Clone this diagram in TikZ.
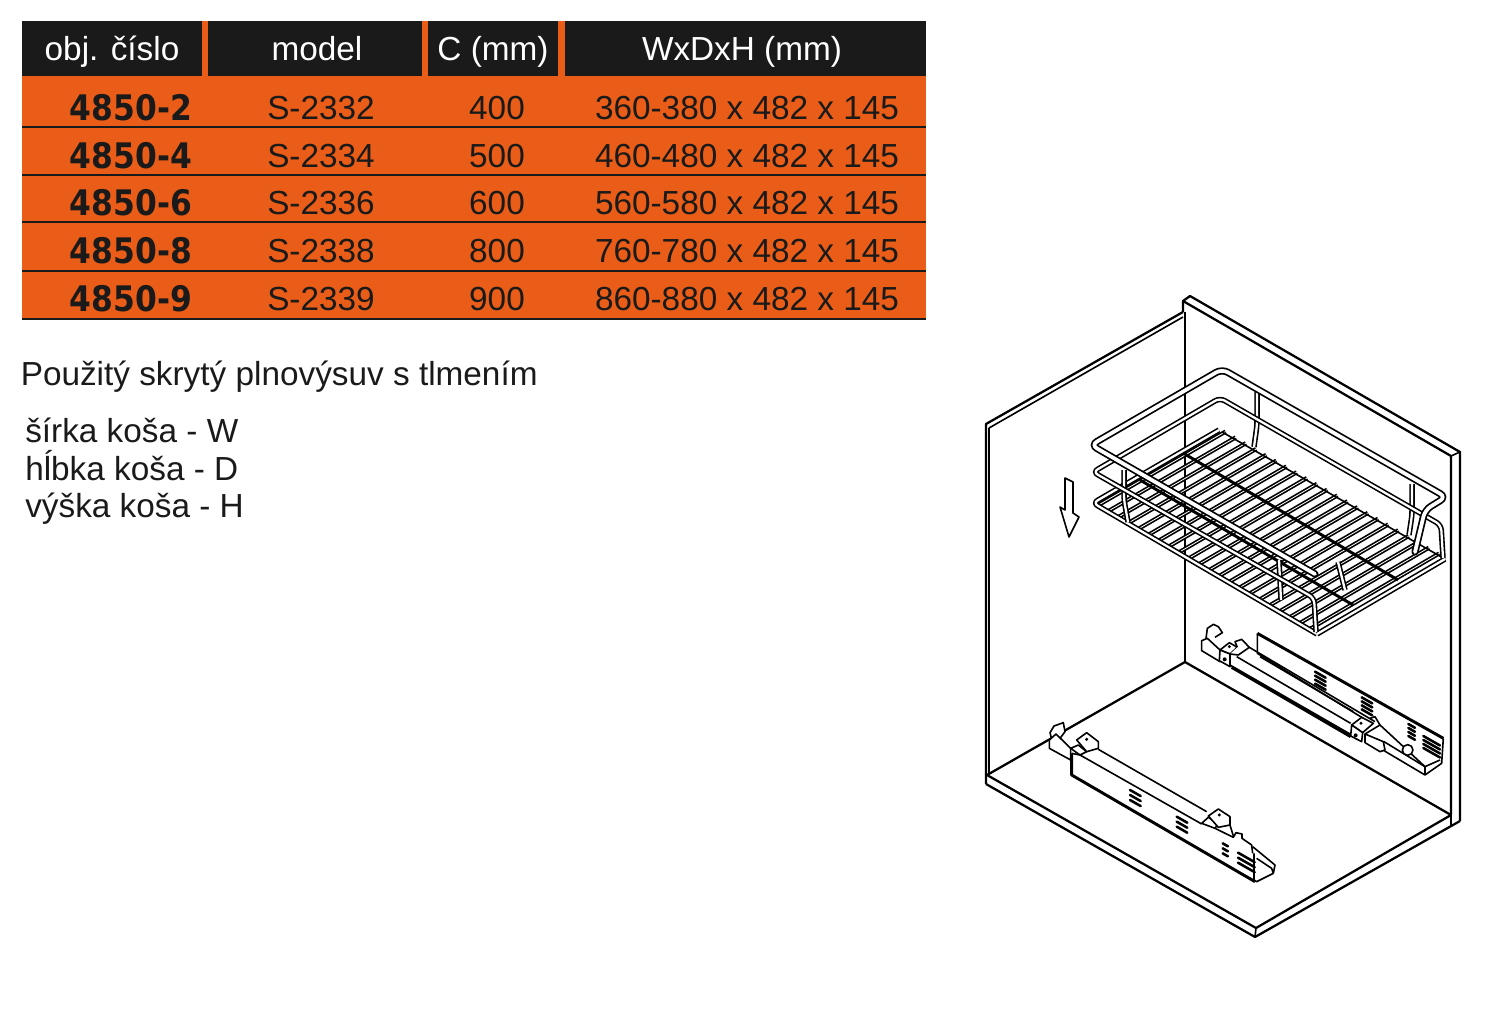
\documentclass[tikz,border=0pt]{standalone}
\usepackage{fontspec}
\setmainfont{Liberation Sans}
\newfontfamily\heavyfont{DejaVu Sans}[BoldFont={DejaVu Sans Bold}]
\usetikzlibrary{calc}
\definecolor{tblorange}{RGB}{233,93,24}
\definecolor{tblblack}{RGB}{26,26,26}
\tikzset{
  headcell/.style={fill=tblblack},
  headtext/.style={anchor=base,inner sep=0.75pt,text=white,font=\fontsize{25}{30}\selectfont},
  rowtext/.style={anchor=base,inner sep=0.75pt,text=tblblack,font=\fontsize{25}{30}\selectfont},
  numtext/.style={anchor=base,inner sep=0.75pt,text=tblblack,font=\heavyfont\bfseries\fontsize{24}{30}\selectfont},
  notetext/.style={anchor=base west,inner sep=0pt,text=tblblack,font=\fontsize{25}{30}\selectfont},
  cabinet/.style={line width=1.7pt,line join=round},
  thinline/.style={line width=1.2pt,line join=round},
  tube/.style={line width=1.3pt,double=white,double distance=2.8pt,rounded corners=5pt,line cap=round},
  thintube/.style={line width=1.2pt,double=white,double distance=1.7pt,rounded corners=4pt},
  slat/.style={line width=1.25pt,double=white,double distance=0.6pt},
  slide/.style={line width=1.2pt,line join=round},
  heavy/.style={line width=2.2pt,line join=round},
  hole/.style={line width=1.9pt,line cap=round}
}
\begin{document}
\begin{tikzpicture}[x=0.75pt,y=0.75pt,yscale=-1,xscale=1]
\useasboundingbox (0,0) rectangle (1505,1016);

%table
\fill [tblorange] (22,21) rectangle (926,319);
\fill [headcell] (22,21) rectangle (202,76);
\fill [headcell] (208,21) rectangle (422,76);
\fill [headcell] (428,21) rectangle (558,76);
\fill [headcell] (565,21) rectangle (926,76);
\node [headtext] (headnum) at (112,61) {obj. číslo};
\node [headtext] (headmodel) at (317,61) {model};
\node [headtext] (headc) at (493,61) {C (mm)};
\node [headtext] (headsize) at (742,61) {WxDxH (mm)};
\foreach \rowy/\linky/\num/\mdl/\cc/\sz [count=\i] in {
  120/127/4850-2/S-2332/400/360-380,
  167.5/175.5/4850-4/S-2334/500/460-480,
  215/222.5/4850-6/S-2336/600/560-580,
  262.5/271/4850-8/S-2338/800/760-780,
  310.5/319/4850-9/S-2339/900/860-880}{
  \draw [line width=1.5pt,tblblack] (22,\linky) -- (926,\linky);
  \node [numtext] (num\i) at (131,\rowy+1) {\scalebox{0.98}[1.1]{\num}};
  \node [rowtext] (model\i) at (321,\rowy) {\mdl};
  \node [rowtext] (cc\i) at (497,\rowy) {\cc};
  \node [rowtext] (size\i) at (747,\rowy) {\sz{} x 482 x 145};
}

%notes
\node [notetext] (used) at (20.5,385) {Použitý skrytý plnovýsuv s tlmením};
\node [notetext] (width) at (25,442) {šírka koša - W};
\node [notetext] (depth) at (25,480) {hĺbka koša - D};
\node [notetext] (height) at (25,517) {výška koša - H};

%cabinet
\draw [cabinet] (986,784) -- (986,424) -- (1183,312);
\draw [thinline] (989,428) -- (1183,317);
\draw [thinline] (989,428) -- (989,775);
\draw [cabinet,line width=1.3pt] (1185,312) -- (1185,662);
\draw [cabinet] (1183,312) -- (1183,301) -- (1190,296) -- (1460,452) -- (1460,821);
\draw [cabinet] (1183,301) -- (1451,456) -- (1451,815);
\draw [thinline] (1451,456) -- (1460,452);
\draw [cabinet] (1185,662) -- (1451,815);
\draw [cabinet] (1185,662) -- (987,775) -- (1256,928) -- (1451,815);
\draw [cabinet] (986,784) -- (1255,937) -- (1460,821);
\draw [thinline] (1256,928) -- (1255,937);
\draw [thinline] (1451,815) -- (1451,825);

%arrow
\draw [thinline] (1065,478) -- (1073,482) -- (1073,513) -- (1079,517) -- (1069,537) -- (1060,507) -- (1065,510) -- cycle;

%basket floor
\coordinate (gridleft) at (1093,503);
\coordinate (gridback) at (1219,430);
\coordinate (gridright) at (1445,559);
\coordinate (gridfront) at (1317,634);
\foreach \t in {0.02,0.065,...,0.98}{
  \draw [slat] ($(gridleft)!\t!(gridfront)$) -- ($(gridback)!\t!(gridright)+(2,-1)$);
}
\draw [thintube] (gridfront) -- (gridleft) -- (gridback);
\draw [thinline] (1222,432) -- (1445,559);
\draw [thintube] (gridfront) -- (gridright);
\draw [heavy] (1183,453) -- (1398,580);
\draw [heavy] (1140,480) -- (1353,605);

%basket posts
\draw [thintube] (1124,470) -- (1124,500) -- (1128,522);
\draw [thintube] (1257,392) -- (1257,425) -- (1254,447);
\draw [thintube] (1279,560) -- (1281,600);
\draw [thintube] (1412,484) -- (1412,515) -- (1409,535);
\draw [thintube] (1338,562) -- (1345,590);

%lower rail
\draw [thintube] (1316,632) -- (1314,598) -- (1093,472) -- (1220,398) -- (1441,525) -- (1443,558);

%upper rail
\draw [tube] (1315,574) -- (1091,445) -- (1222,369) -- (1446,497) -- (1425,510) -- (1415,552);

%right slide
\begin{scope}[shift={(1180,610)},scale=0.3333]
  \draw [slide,fill=white] (78,85) -- (82,55) -- (100,43) -- (115,50) -- (127,68) -- (105,82);
  \draw [slide,fill=white] (65,92) -- (65,122) -- (120,155) -- (120,120) -- (82,85) -- cycle;
  \draw [slide,fill=white] (120,120) -- (148,98) -- (172,112) -- (150,132) -- cycle;
  \draw [slide,fill=white] (120,120) -- (118,152) -- (150,170) -- (150,132) -- cycle;
  \draw [slide,fill=white] (172,112) -- (165,95) -- (185,88) -- (208,112) -- (175,135) -- (150,132);
  \draw [slide] (150,165) -- (510,372);
  \draw [heavy] (155,172) -- (512,380);
  \draw [slide] (170,140) -- (512,340);
  \draw [slide] (208,112) -- (585,335);
  \draw [heavy] (232,70) -- (790,385);
  \draw [slide] (232,70) -- (232,130) -- (545,322);
  \draw [slide] (240,140) -- (520,305);
  \draw [slide] (790,385) -- (785,460) -- (735,495) -- (612,422);
  \draw [slide] (600,345) -- (735,470) -- (780,450);
  \draw [slide] (612,395) -- (735,470);
  \draw [slide] (735,470) -- (735,495);
  \draw [slide,fill=white] (515,345) -- (545,322) -- (580,340) -- (548,368) -- cycle;
  \draw [slide,fill=white] (515,345) -- (512,378) -- (545,395) -- (548,368) -- cycle;
  \draw [slide] (570,325) -- (585,320) -- (600,345) -- (555,372);
  \draw [slide,fill=white] (555,372) -- (610,395) -- (615,420) -- (600,425) -- (555,398) -- cycle;
  \draw [slide,fill=white] (683,420) circle [radius=16];
  \fill (148,110) circle [radius=5];
  \fill (134,148) circle [radius=6];
  \fill (543,340) circle [radius=5];
  \fill (527,376) circle [radius=6];
  %hole rows
  \foreach \hx/\hy/\hw in {405/185/32,545/262/32,685/342/20,730/378/50}{
    \foreach \k in {0,1,2,3}{
      \draw [hole] (\hx,\hy+\k*12) -- +(\hw,\hw*0.57);
    }
  }
\end{scope}

%left slide
\begin{scope}[shift={(1030,710)},scale=0.3333]
  \draw [slide,fill=white] (60,68) -- (72,48) -- (100,38) -- (105,65) -- (90,85) -- (65,88) -- cycle;
  \draw [slide,fill=white] (58,90) -- (58,115) -- (122,150) -- (122,115) -- (78,72) -- cycle;
  \draw [slide,fill=white] (122,115) -- (145,105) -- (170,125) -- (150,135) -- cycle;
  \draw [slide,fill=white] (140,90) -- (170,68) -- (205,95) -- (205,115) -- (170,125) -- cycle;
  \fill (170,88) circle [radius=5];
  \draw [slide] (205,118) -- (530,305);
  \draw [heavy] (125,130) -- (125,195) -- (675,515);
  \draw [slide] (150,135) -- (515,342);
  \draw [slide] (125,130) -- (150,135);
  \draw [slide,fill=white] (515,340) -- (535,322) -- (565,340) -- (555,355) -- cycle;
  \draw [slide,fill=white] (535,318) -- (565,297) -- (600,320) -- (600,345) -- (565,352) -- cycle;
  \fill (568,315) circle [radius=5];
  \draw [slide] (555,355) -- (610,382) -- (618,368) -- (636,372) -- (636,385) -- (665,405) -- (668,430);
  \draw [slide] (600,345) -- (610,378);
  \draw [slide] (668,410) -- (735,465) -- (730,490) -- (680,515) -- (672,510) -- (672,430);
  \draw [slide] (680,445) -- (725,475) -- (730,490);
  %hole rows
  \foreach \hx/\hy/\hw in {300/240/32,440/320/32,578/400/16,624/428/50}{
    \foreach \k in {0,1,2}{
      \draw [hole] (\hx,\hy+\k*15) -- +(\hw,\hw*0.57);
    }
  }
\end{scope}
\end{tikzpicture}
\end{document}
